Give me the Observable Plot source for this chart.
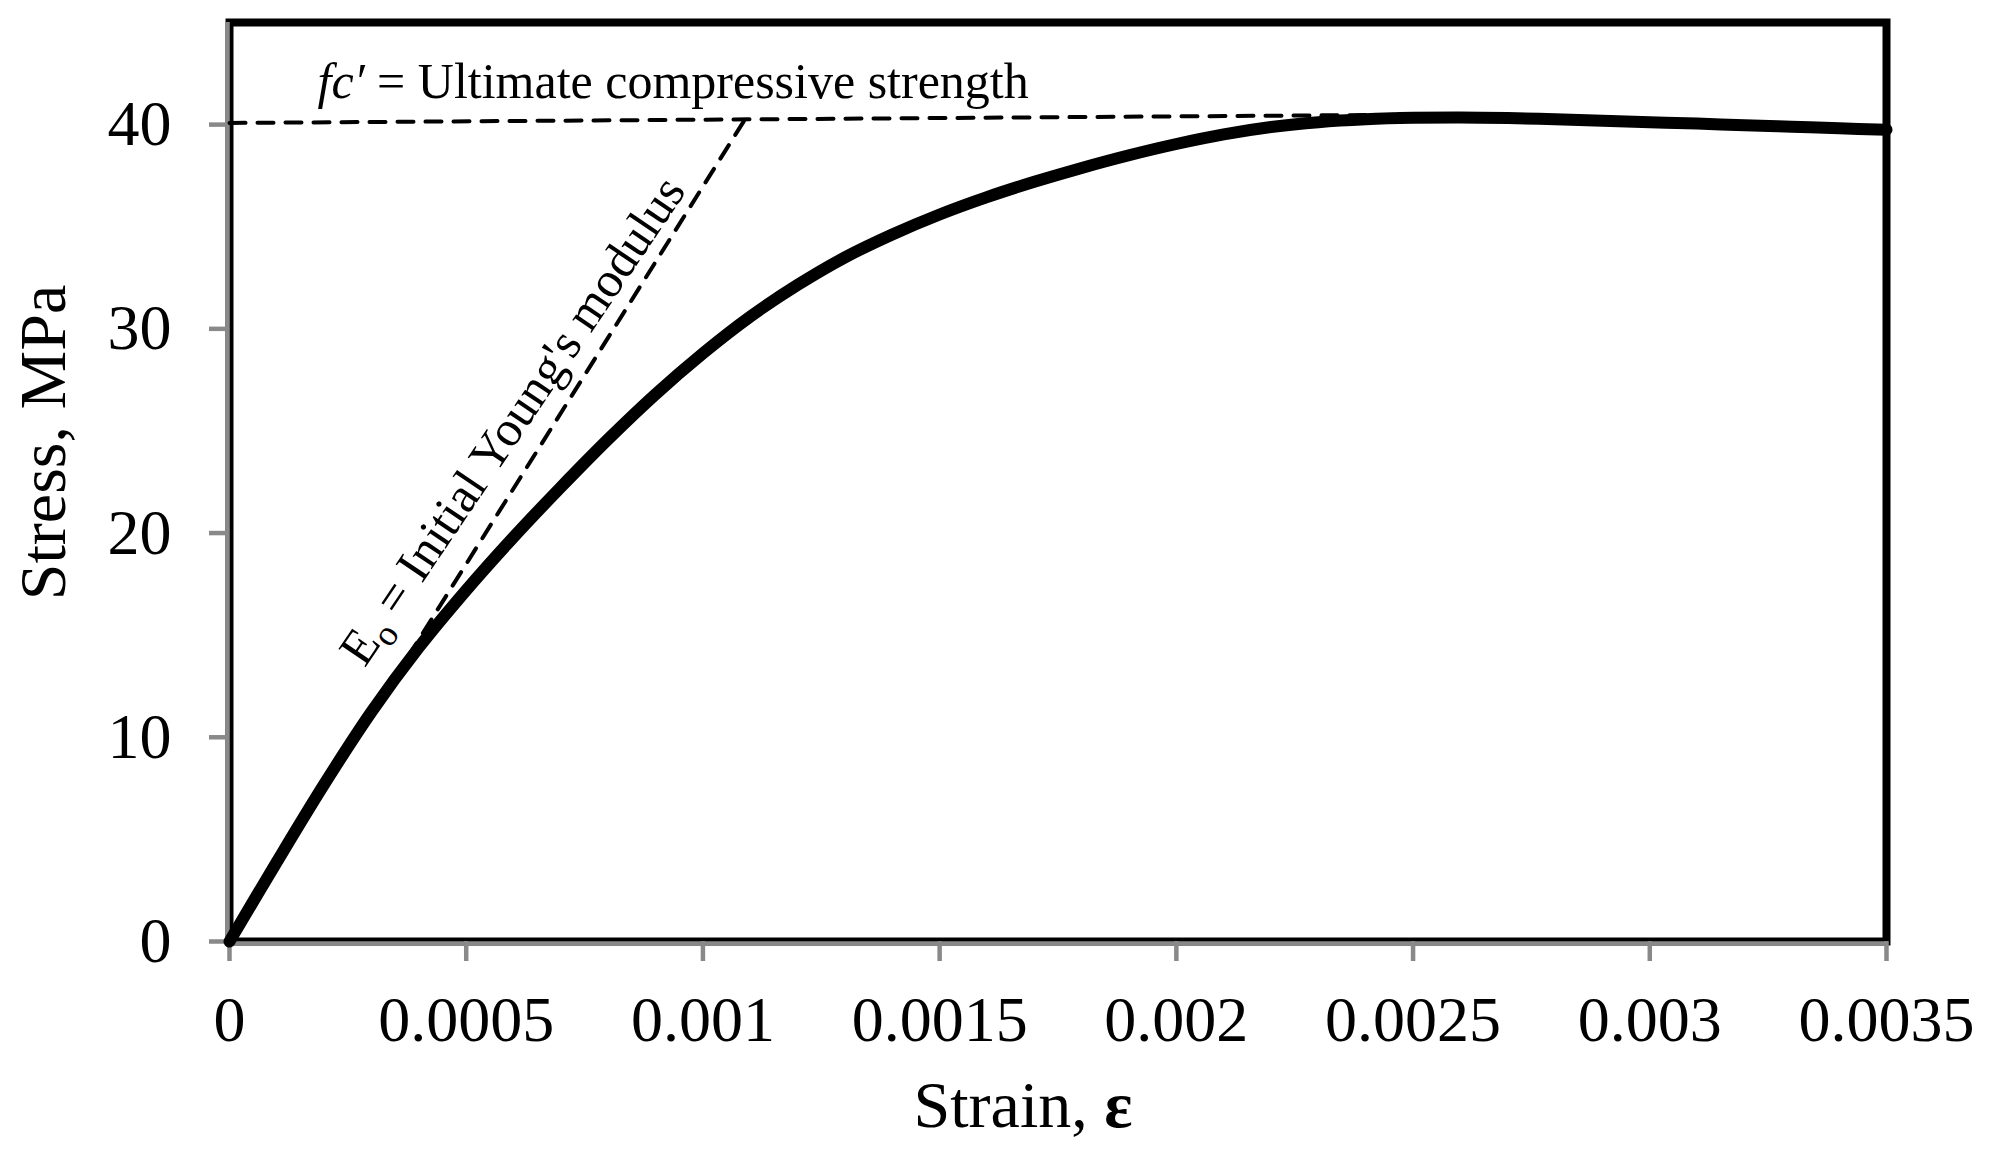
<!DOCTYPE html>
<html>
<head>
<meta charset="utf-8">
<script src="https://cdn.jsdelivr.net/npm/d3@7"></script>
<script src="https://cdn.jsdelivr.net/npm/@observablehq/plot@0.6"></script>
<style>
  body { margin: 0; background: #fff; }
  #chart svg { display: block; font-family: "Liberation Serif", "Times New Roman", serif; }
</style>
</head>
<body>
<div id="chart"></div>
<script>
// Stress–strain curve
const strain = [0, 0.0001, 0.0002, 0.0003, 0.0004, 0.0005, 0.0006, 0.0007, 0.0008, 0.0009,
  0.001, 0.0011, 0.0012, 0.0013, 0.0014, 0.0015, 0.0016, 0.0017, 0.0018, 0.0019,
  0.002, 0.0021, 0.0022, 0.0023, 0.0024, 0.0025, 0.0026, 0.0027, 0.0028, 0.0029,
  0.003, 0.0031, 0.0032, 0.0033, 0.0034, 0.0035];
const stress = [0, 3.9, 7.7, 11.25, 14.4, 17.2, 19.8, 22.25, 24.6, 26.8,
  28.8, 30.6, 32.15, 33.5, 34.62, 35.6, 36.45, 37.2, 37.88, 38.5,
  39.05, 39.52, 39.88, 40.12, 40.26, 40.33, 40.35, 40.32, 40.26, 40.19,
  40.12, 40.05, 39.97, 39.9, 39.82, 39.75];

// fc' reference line and initial tangent (Young's modulus) line
const fcStrain = [0, 0.0026];
const fcStress = [40.08, 40.5];
const tangentStrain = [0, 0.00109];
const tangentStress = [0, 40.3];

// Ticks
const xTicks = [0, 0.0005, 0.001, 0.0015, 0.002, 0.0025, 0.003, 0.0035];
const xTickLabels = ["0", "0.0005", "0.001", "0.0015", "0.002", "0.0025", "0.003", "0.0035"];
const yTicks = [0, 10, 20, 30, 40];
const yTickLabels = ["0", "10", "20", "30", "40"];

// Annotations (anchored in data units)
const annText = ["fc′ = Ultimate compressive strength", "Eo = Initial Young's modulus"];
const annStrain = [0.000186, 0.000598];
const annStress = [42.09, 25.5];

const xTitle = "Strain, ε";
const yTitle = "Stress, MPa";

const curve = strain.map((s, i) => ({strain: s, stress: stress[i]}));
const fcLine = fcStrain.map((s, i) => ({strain: s, stress: fcStress[i]}));
const tangent = tangentStrain.map((s, i) => ({strain: s, stress: tangentStress[i]}));
const ann = annText.map((t, i) => ({text: t, strain: annStrain[i], stress: annStress[i]}));

const gray = "#898989";

const plot = Plot.plot({
  width: 1993,
  height: 1150,
  marginLeft: 229,
  marginRight: 107,
  marginTop: 22,
  marginBottom: 209,
  style: {background: "white", color: "black", fontFamily: "Liberation Serif, Times New Roman, serif"},
  x: {domain: [0, 0.0035]},
  y: {domain: [0, 45]},
  marks: [
    Plot.frame({stroke: "black", strokeWidth: 8}),
    Plot.ruleX([0], {stroke: gray, strokeWidth: 4.5, dx: -2}),
    Plot.ruleY([0], {stroke: gray, strokeWidth: 4.5, dy: 2}),
    Plot.axisX(xTicks, {tickSize: 20, tickPadding: 34, stroke: gray, strokeWidth: 4.5,
      tickFormat: d => xTickLabels[xTicks.indexOf(d)], fontSize: 64, label: null}),
    Plot.axisY(yTicks, {tickSize: 20, tickPadding: 38, stroke: gray, strokeWidth: 4.5,
      tickFormat: d => yTickLabels[yTicks.indexOf(d)], fontSize: 64, label: null}),
    Plot.line(fcLine, {x: "strain", y: "stress", stroke: "black", strokeWidth: 4, strokeDasharray: "16,12"}),
    Plot.line(tangent, {x: "strain", y: "stress", stroke: "black", strokeWidth: 4, strokeDasharray: "16,12"}),
    Plot.line(curve, {x: "strain", y: "stress", stroke: "black", strokeWidth: 12, curve: "catmull-rom", strokeLinejoin: "round"}),
    Plot.text([ann[0]], {x: "strain", y: "stress", text: "text", textAnchor: "start", lineAnchor: "middle", fontSize: 50}),
    Plot.text([ann[1]], {x: "strain", y: "stress", text: "text", textAnchor: "middle", lineAnchor: "middle", fontSize: 50, rotate: -56}),
    Plot.text([xTitle], {frameAnchor: "bottom", dx: -35, dy: 164, textAnchor: "middle", lineAnchor: "middle", fontSize: 66}),
    Plot.text([yTitle], {frameAnchor: "left", dx: -186, dy: -39.5, rotate: -90, textAnchor: "middle", lineAnchor: "middle", fontSize: 66})
  ]
});

// Typographic details: italic fc′, subscript o, bold ε
plot.querySelectorAll("text").forEach(t => {
  const s = t.textContent;
  if (s === annText[0]) {
    t.innerHTML = '<tspan font-style="italic">fc′</tspan> = Ultimate compressive strength';
  } else if (s === annText[1]) {
    t.innerHTML = 'E<tspan dy="10" font-size="36">o</tspan><tspan dy="-10"> = Initial Young\'s modulus</tspan>';
  } else if (s === xTitle) {
    t.innerHTML = 'Strain, <tspan font-weight="bold">ε</tspan>';
  }
});

document.getElementById("chart").appendChild(plot);
</script>
</body>
</html>
